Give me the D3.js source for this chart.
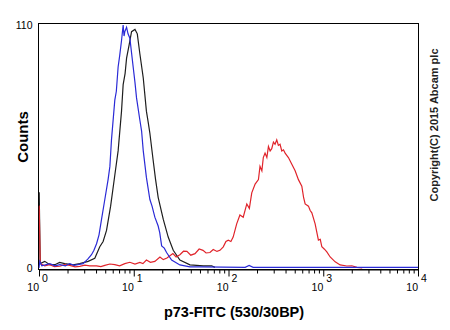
<!DOCTYPE html>
<html>
<head>
<meta charset="utf-8">
<script src="https://cdn.jsdelivr.net/npm/d3@7"></script>
<style>
  html, body { margin: 0; padding: 0; background: #fff; }
  svg { display: block; }
</style>
</head>
<body>
<svg id="chart" width="450" height="330"></svg>
<script>
// ---- data (fluorescence intensity, counts) ----
const blueIntensity = [1.00, 1.02, 1.07, 1.30, 1.48, 1.66, 1.90, 2.11, 2.35, 2.57, 2.92, 3.27, 3.58, 3.80, 4.05, 4.30, 4.57, 4.95, 5.36, 5.60, 5.82, 6.31, 6.55, 6.84, 7.10, 7.43, 7.73, 7.90, 8.05, 8.40, 8.70, 9.10, 9.86, 10.3, 10.7, 11.6, 12.1, 12.6, 13.6, 14.8, 15.6, 16.7, 18.1, 18.8, 19.7, 21.0, 22.2, 25.1, 30.7, 39.2, 50.0, 150, 165, 182, 570, 10000];
const blueCounts    = [0,    3,    1,    2,    1.0,  1.5,  1.0,  2,    1.2,  1.5,  2,    4,    6,    8,    11,   15,   22,   31,   40,   46,   58,   76,   80,   91,   96,   103,  110,  105,  107,  109,  106,  104,  91,   84,   77,   67,   62,   53,   41,   31,   28,   23,   19,   16,   10,   9,    7,    3.6,  1.4,  0.5,  0.5,  0.3,  1.2,  0.3,  0.3, 0.3];

const blackIntensity = [1.00, 1.005, 1.03, 1.15, 1.30, 1.47, 1.65, 1.87, 2.29, 2.69, 3.30, 3.88, 4.38, 4.75, 5.16, 5.70, 6.31, 6.84, 7.43, 7.73, 8.10, 8.40, 8.94, 9.48, 10.3, 10.9, 11.6, 12.6, 13.6, 14.2, 14.8, 16.0, 17.0, 18.1, 20.5, 23.1, 26.1, 30.7, 39.2, 54.2, 66.4, 71.9];
const blackCounts    = [34,   34,    2,    3,    1.5,  1.5,  2.5,  2,    1.4,  2,    3,    4.4,  9.6,  12,   17,   28,   42,   53,   71,   83,   88,   95,   101,  107,  108,  106,  97,   86,   71,   66,   61,   49,   40,   32,   22,   14,   8,    3.6,  1.4,  1,    1,    0.3];

const redIntensity = [1.00, 1.005, 1.03, 1.15, 1.30, 1.45, 1.66, 1.85, 2.11, 2.40, 2.69, 3.05, 3.44, 4.05, 4.50, 4.95, 5.60, 6.31, 7.10, 8.05, 9.10, 10.3, 11.6, 12.5, 13.6, 15.0, 16.7, 18.9, 20.5, 22.4, 25.9, 28.0, 30.7, 33.5, 36.4, 40.0, 44.3, 49.0, 53.8, 58.0, 63.7, 69.0, 75.6, 81.2, 88.1, 94.0, 99.5, 106, 112, 122, 132, 143, 156, 166, 176, 191, 207, 215, 225, 233, 243, 254, 264, 275, 286, 298, 310, 323, 336, 350, 365, 380, 396, 412, 429, 466, 505, 547, 594, 620, 644, 698, 728, 758, 821, 889, 930, 966, 1030, 1091, 1183, 1336, 1507, 1774, 2005, 2265, 2578];
const redCounts    = [28,   28,    2,    1,    1.5,  0.6,  0.8,  1.5,  1.2,  0.5,  0.7,  1.3,  1,    1,    0.6,  1.2,  1.8,  1.5,  1.0,  2,    2.6,  1.8,  2.5,  2.0,  3.6,  2.6,  3,    5,    3.8,  4.5,  6.5,  5.0,  6,    7.6,  7.5,  5.8,  6.5,  8.6,  8,    6.8,  7,    8.4,  7.5,  8,    9.6,  12,   12.6, 12,   14,   20,   24,   23,   29,   27,   34,   38,   40,   46,   44,   50,   52,   50,   55,   53,   54,   57,   56,   58,   55.5, 56,   53,   53.5, 52,   51,   50,   47,   44,   40,   37,   32,   29,   28,   26,   25,   20,   12.6, 13,   9.6,  8.5,  7.3,  5,    2.8,  1.4,  0.9,  1,    0.3,  0];

const decades = [1, 10, 100, 1000, 10000];
const decadeExponents = ["0", "1", "2", "3", "4"];
const yTickValues = [0, 110];
const xTitle = "p73-FITC (530/30BP)";
const yTitle = "Counts";
const copyright = "Copyright(C) 2015 Abcam plc";

// ---- layout ----
const svg = d3.select("#chart");
const L = 38.5, R = 418.5, T = 23.5, B = 269.5;

const x = d3.scaleLog().domain([1, 10000]).range([39, 418]);
const y = d3.scaleLinear().domain([0, 110]).range([268, 25]);

// frame
svg.append("rect")
  .attr("x", L).attr("y", T)
  .attr("width", R - L).attr("height", B - T)
  .attr("fill", "none").attr("stroke", "#000").attr("stroke-width", 1);

// curves
const line = d3.line()
  .x(d => x(d[0]))
  .y(d => y(d[1]))
  .curve(d3.curveLinear);

const series = [
  { xs: blackIntensity, ys: blackCounts, color: "#1e1e1e" },
  { xs: redIntensity, ys: redCounts, color: "#e0242b" },
  { xs: blueIntensity, ys: blueCounts, color: "#2a2ad6" }
];

svg.append("clipPath").attr("id", "plotclip")
  .append("rect").attr("x", L).attr("y", T - 2).attr("width", R - L).attr("height", B - T + 2);

const g = svg.append("g").attr("clip-path", "url(#plotclip)");
series.forEach(s => {
  g.append("path")
    .datum(s.xs.map((v, i) => [v, s.ys[i]]))
    .attr("d", line)
    .attr("fill", "none")
    .attr("stroke", s.color)
    .attr("stroke-width", 1.2)
    .attr("stroke-linejoin", "miter");
});

// x axis with minor ticks
const tickVals = [];
decades.forEach((d, i) => {
  if (i < decades.length - 1) {
    for (let k = 1; k <= 9; k++) tickVals.push(d * k);
  } else tickVals.push(d);
});
const xAxis = d3.axisBottom(x).tickValues(tickVals).tickSize(4).tickFormat("");
const ax = svg.append("g").attr("transform", `translate(0,${B})`).call(xAxis);
ax.select(".domain").attr("stroke", "#000");
ax.selectAll(".tick line")
  .attr("stroke", "#000")
  .attr("y2", d => decades.includes(d) ? 7 : 4);

// decade labels: 10 with superscript
const labG = svg.append("g").attr("font-family", "Liberation Sans, Arial, sans-serif").attr("fill", "#000");
decades.forEach((d, i) => {
  const px = x(d);
  labG.append("text")
    .attr("x", px).attr("y", 291)
    .attr("text-anchor", "end")
    .attr("font-size", 10.5)
    .text("10");
  labG.append("text")
    .attr("x", px + 3).attr("y", 281.5)
    .attr("text-anchor", "start")
    .attr("font-size", 10.5)
    .text(decadeExponents[i]);
});

// y axis labels
const yAxis = d3.axisLeft(y).tickValues(yTickValues).tickSize(0).tickPadding(6).tickFormat(d3.format("d"));
const ay = svg.append("g").attr("transform", `translate(${L},0)`).call(yAxis);
ay.select(".domain").remove();
ay.selectAll("text")
  .attr("font-family", "Liberation Sans, Arial, sans-serif")
  .attr("font-size", 10.5)
  .attr("fill", "#000");

// titles
svg.append("text")
  .attr("x", 234).attr("y", 317)
  .attr("text-anchor", "middle")
  .attr("font-family", "Liberation Sans, Arial, sans-serif")
  .attr("font-weight", "bold")
  .attr("font-size", 14.5)
  .text(xTitle);

svg.append("text")
  .attr("transform", "translate(28,137) rotate(-90)")
  .attr("text-anchor", "middle")
  .attr("font-family", "Liberation Sans, Arial, sans-serif")
  .attr("font-weight", "bold")
  .attr("font-size", 15)
  .text(yTitle);

svg.append("text")
  .attr("transform", "translate(438,125) rotate(-90)")
  .attr("text-anchor", "middle")
  .attr("font-family", "Liberation Sans, Arial, sans-serif")
  .attr("font-weight", "bold")
  .attr("font-size", 11)
  .attr("fill", "#222")
  .text(copyright);
</script>
</body>
</html>
